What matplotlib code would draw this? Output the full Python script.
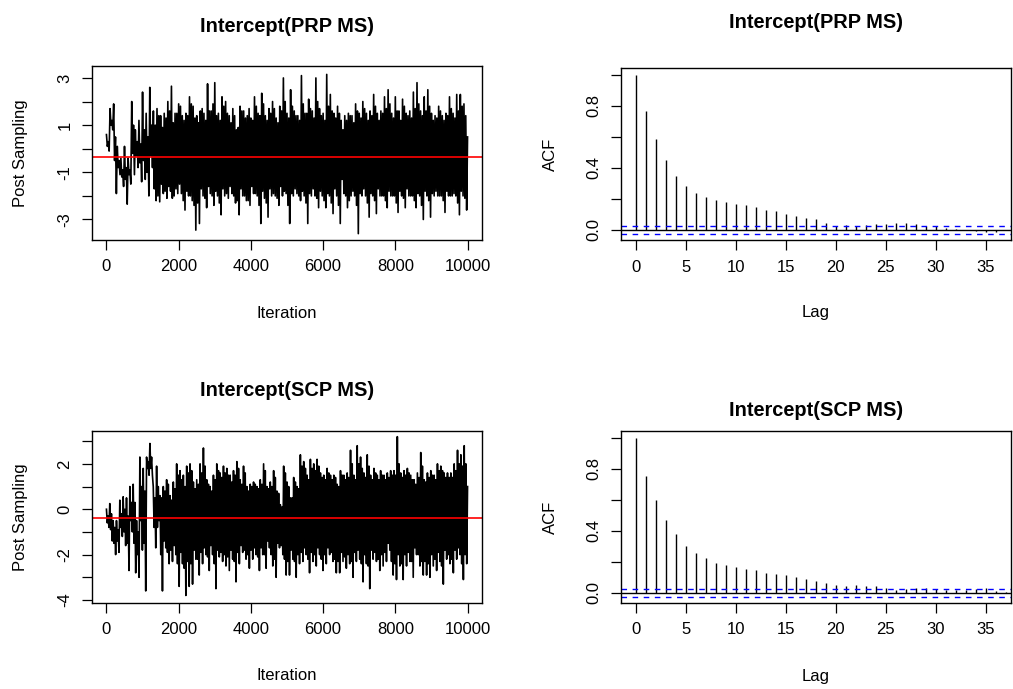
import matplotlib
matplotlib.use("Agg")
import matplotlib.pyplot as plt
import numpy as np

plt.rcParams['font.family'] = ['Liberation Sans', 'DejaVu Sans']

# ---------------- data ----------------
titles_left = ["Intercept(PRP MS)", "Intercept(SCP MS)"]
titles_right = ["Intercept(PRP MS)", "Intercept(SCP MS)"]
n_iter = 10000

# PRP trace: per-block extreme high / low values (100 blocks of 100 iterations)
prp_hi = [0.6, 1.7, 1.9, 0.1, -0.4, 0.1, -0.4, 2.0, 0.8, 1.2,
          2.4, 1.5, 2.6, 1.6, 1.7, 1.4, 1.5, 2.0, 2.65, 1.5,
          1.9, 1.4, 1.5, 2.2, 1.8, 1.4, 1.6, 1.5, 2.75, 1.6,
          2.8, 1.5, 2.2, 2.0, 1.4, 1.7, 0.8, 1.8, 1.6, 1.4,
          1.3, 2.2, 1.5, 2.35, 1.4, 1.7, 2.0, 1.3, 1.8, 3.0,
          1.5, 2.5, 1.6, 1.4, 3.1, 1.5, 2.1, 1.6, 3.0, 1.7,
          1.5, 3.15, 2.3, 1.5, 1.8, 1.2, 1.4, 1.5, 1.4, 1.9,
          1.5, 2.0, 1.5, 1.6, 2.3, 1.5, 1.6, 2.2, 2.5, 1.5,
          2.2, 1.6, 2.1, 1.5, 1.6, 2.4, 2.8, 1.6, 2.2, 2.5,
          1.5, 1.4, 1.8, 1.4, 1.5, 2.2, 1.5, 2.3, 2.3, 1.9]
prp_lo = [-0.1, 0.8, -1.9, -1.1, -1.6, -2.35, -1.5, -1.1, -0.8, -1.4,
          -1.3, -2.0, -0.8, -2.2, -2.25, -1.9, -2.1, -1.8, -2.0, -1.9,
          -1.9, -2.6, -2.0, -2.2, -3.45, -3.17, -2.0, -2.5, -1.9, -2.4,
          -2.0, -2.8, -2.0, -2.1, -1.9, -2.3, -2.8, -2.0, -2.2, -2.4,
          -1.9, -2.0, -3.17, -2.1, -2.9, -2.0, -2.0, -2.4, -2.0, -1.9,
          -3.17, -2.0, -1.9, -2.2, -2.0, -3.17, -2.0, -2.0, -2.5, -2.0,
          -2.5, -2.0, -2.75, -2.0, -3.17, -1.9, -2.5, -2.0, -2.0, -3.6,
          -2.0, -2.0, -2.9, -2.0, -2.75, -2.0, -2.0, -2.5, -2.0, -2.0,
          -2.7, -2.0, -2.5, -2.0, -2.0, -2.5, -2.0, -3.0, -2.0, -2.9,
          -2.0, -2.0, -2.0, -2.7, -2.0, -2.0, -2.0, -2.8, -2.0, -2.6]
# PRP trace: per-block secondary (inner) high / low values
prp_core_hi = [0.3, 1.2, 0.5, -0.5, -0.9, -0.8, -0.9, 1.0, 0.3, 0.2,
               0.8, 0.5, 1.0, 1.0, 1.4, 0.9, 1.3, 1.6, 1.1, 1.5, 1.8, 1.2, 1.4,
               1.9, 1.3, 1.1, 1.7, 1.2, 1.6, 1.9, 1.4, 1.2, 1.8,
               1.5, 1.1, 1.4, 0.9, 1.6, 1.3, 1.7, 1.2, 1.8, 1.4,
               1.9, 1.2, 1.5, 1.7, 1.1, 1.6, 2.0, 1.3, 1.8, 1.4,
               1.2, 1.9, 1.5, 1.7, 1.3, 2.0, 1.4, 1.2, 1.8, 1.6,
               1.3, 1.5, 0.8, 1.2, 1.4, 1.1, 1.6, 1.3, 1.7, 1.2,
               1.4, 1.8, 1.2, 1.5, 1.7, 1.9, 1.3, 1.6, 1.2, 1.8,
               1.4, 1.3, 1.7, 1.9, 1.4, 1.6, 1.8, 1.2, 1.3, 1.6,
               1.2, 1.4, 1.7, 1.3, 1.6, 1.8, 1.4]
prp_core_lo = [0.1, 1.0, -0.5, -0.8, -1.2, -1.3, -1.1, -0.2, -0.3, -0.6,
               -0.5, -1.0, -0.3, -1.7, -2.0, -1.5, -1.8, -1.6, -2.1, -1.7, -1.5, -2.2, -1.8,
               -2.0, -2.4, -2.3, -1.7, -2.1, -1.6, -2.0, -1.8, -2.3, -1.7,
               -1.9, -1.6, -2.0, -2.2, -1.7, -2.0, -2.2, -1.6, -1.9, -2.4,
               -1.8, -2.3, -1.7, -1.9, -2.1, -1.6, -1.8, -2.4, -1.9, -1.7,
               -2.0, -1.8, -2.3, -1.9, -1.7, -2.1, -1.8, -2.2, -1.9, -2.3,
               -1.7, -2.4, -1.3, -2.0, -2.2, -1.8, -2.4, -1.9, -1.7, -2.3,
               -1.9, -2.2, -1.7, -2.0, -2.2, -1.8, -2.0, -2.3, -1.8, -2.1,
               -1.7, -2.0, -2.2, -1.9, -2.4, -1.8, -2.2, -1.9, -1.8, -2.0,
               -2.2, -1.8, -2.0, -1.9, -2.3, -1.8, -2.1]
prp_end = 0.5
prp_mean = -0.33

# SCP trace: per-block extreme high / low values (108 blocks)
scp_hi = [0.0, 0.25, -0.5, -0.5, 0.4, 0.55, 0.5, 1.0, 1.1, -0.5,
          2.3, 1.8, 2.3, 2.9, 1.0, 1.9, 0.6, 1.0, 1.3, 0.6,
          1.2, 2.0, 1.7, 1.5, 1.9, 2.0, 1.2, 1.3, 2.0, 2.7,
          1.3, 1.0, 1.5, 2.0, 1.6, 1.9, 1.8, 1.5, 1.7, 2.1,
          1.3, 1.9, 1.0, 1.1, 1.2, 1.0, 1.3, 2.0, 1.0, 1.2,
          1.7, 0.8, 0.2, 1.9, 1.2, 0.5, 1.4, 1.0, 2.4, 2.1,
          1.5, 2.2, 2.0, 2.2, 1.6, 1.5, 1.8, 1.5, 1.5, 1.1,
          1.7, 1.5, 1.6, 2.6, 1.5, 2.8, 2.3, 1.6, 2.4, 1.5,
          1.8, 1.5, 1.7, 1.5, 1.6, 1.7, 1.7, 3.2, 1.6, 1.7,
          1.8, 1.5, 1.3, 1.6, 2.5, 1.3, 1.6, 1.7, 1.5, 2.0,
          1.9, 1.6, 1.6, 1.6, 2.0, 2.6, 2.4, 2.8]
scp_lo = [-0.8, -1.4, -2.0, -1.9, -1.2, -1.6, -2.7, -1.0, -2.8, -3.0,
          -1.8, -3.6, 1.5, 1.5, -1.7, -0.5, -3.6, -1.7, -2.4, -2.3,
          -2.0, -3.4, -2.4, -3.8, -3.4, -3.3, -2.2, -2.9, -2.4, -2.0,
          -2.7, -2.0, -3.5, -2.1, -2.3, -2.5, -2.7, -2.2, -3.2, -2.4,
          -1.9, -2.2, -2.6, -2.2, -2.0, -2.7, -2.0, -2.6, -1.7, -2.5,
          -3.0, -1.7, -2.0, -2.9, -2.9, -2.2, -3.0, -2.4, -2.3, -2.0,
          -2.8, -2.3, -2.5, -2.0, -2.7, -2.4, -2.0, -2.3, -2.8, -2.8,
          -2.3, -2.6, -2.4, -3.0, -2.3, -2.2, -3.2, -2.4, -3.5, -2.2,
          -2.3, -2.7, -2.5, -2.3, -1.8, -2.9, -3.1, -2.5, -3.1, -2.5,
          -2.3, -3.0, -2.0, -2.5, -2.9, -2.9, -3.0, -2.5, -2.7, -2.3,
          -3.3, -2.2, -2.4, -2.8, -2.2, -2.0, -3.1, -2.4]
# SCP trace: per-block secondary (inner) high / low values
scp_core_hi = [-0.3, -0.2, -0.8, -0.9, -0.2, 0.0, -0.3, 0.3, 0.3, -1.0,
               1.0, 0.8, 2.1, 2.3, 0.5,
               1.0, 0.5, 0.8, 1.1, 0.4, 0.9, 1.5, 1.3, 1.0, 1.6,
               1.7, 0.9, 1.1, 1.6, 1.9, 1.1, 0.8, 1.3, 1.7, 1.4,
               1.6, 1.5, 1.2, 1.5, 1.8, 1.1, 1.6, 0.8, 1.0, 1.1,
               0.9, 1.1, 1.7, 0.9, 1.0, 1.4, 0.7, 0.1, 1.6, 1.0,
               0.5, 1.2, 0.9, 1.9, 1.8, 1.3, 1.8, 1.7, 1.9, 1.4,
               1.3, 1.6, 1.3, 1.4, 1.0, 1.5, 1.3, 1.4, 2.0, 1.3,
               2.0, 1.8, 1.4, 1.9, 1.3, 1.6, 1.3, 1.5, 1.3, 1.4,
               1.5, 1.5, 2.0, 1.4, 1.5, 1.6, 1.3, 1.1, 1.4, 1.9,
               1.2, 1.4, 1.5, 1.3, 1.7, 1.7, 1.4, 1.4, 1.4, 1.7, 2.0, 1.9, 2.0]
scp_core_lo = [-0.6, -0.9, -1.5, -1.4, -0.8, -1.0, -1.5, -0.5, -1.5, -2.0,
               -0.5, -1.5, 1.8, 1.8, -0.8,
               -0.8, -2.0, -1.4, -1.9, -1.8, -1.6, -2.4, -1.9, -2.6, -2.3,
               -2.4, -1.8, -2.2, -1.9, -1.7, -2.1, -1.6, -2.4, -1.8, -1.9,
               -2.0, -2.1, -1.8, -2.3, -1.9, -1.6, -1.8, -2.0, -1.8, -1.7,
               -2.1, -1.7, -2.0, -1.4, -2.0, -2.2, -1.5, -1.6, -2.2, -2.3,
               -1.8, -2.3, -2.0, -1.9, -1.7, -2.2, -1.9, -2.0, -1.7, -2.2,
               -2.0, -1.7, -1.9, -2.2, -2.3, -1.9, -2.1, -2.0, -2.3, -1.9,
               -1.8, -2.4, -2.0, -2.5, -1.8, -1.9, -2.2, -2.0, -1.9, -1.5,
               -2.3, -2.4, -2.0, -2.4, -2.0, -1.9, -2.3, -1.7, -2.0, -2.3,
               -2.3, -2.4, -2.0, -2.2, -1.9, -2.5, -1.8, -2.0, -2.2, -1.8, -1.7, -2.4, -2.0]
scp_end = 1.0
scp_mean = -0.40

# autocorrelations (lags 0..37)
prp_acf = [1.0, 0.766, 0.585, 0.449, 0.346, 0.282, 0.237, 0.211, 0.191, 0.181,
           0.168, 0.159, 0.144, 0.129, 0.118, 0.099, 0.088, 0.075, 0.067, 0.045,
           0.027, 0.028, 0.026, 0.028, 0.034, 0.037, 0.043, 0.043, 0.039, 0.026,
           0.022, 0.011, 0.006, 0.0, -0.009, -0.015, -0.015, -0.003]
scp_acf = [1.0, 0.751, 0.596, 0.469, 0.376, 0.299, 0.256, 0.222, 0.194, 0.181,
           0.166, 0.151, 0.144, 0.127, 0.118, 0.114, 0.103, 0.086, 0.073, 0.060,
           0.047, 0.045, 0.047, 0.043, 0.041, 0.030, 0.019, 0.026, 0.028, 0.030,
           0.024, 0.019, 0.015, 0.019, 0.024, 0.028, 0.013, 0.004]
prp_ci = 0.025
scp_ci = 0.027

# ---------------- figure ----------------
W, H = 1013, 689
fig = plt.figure(figsize=(W / 100, H / 100), dpi=100)


def px_axes(x0, y0, x1, y1):
    return fig.add_axes([x0 / W, 1 - y1 / H, (x1 - x0) / W, (y1 - y0) / H])


def style(ax):
    for s in ax.spines.values():
        s.set_linewidth(1.0)
        s.set_color('black')
    ax.tick_params(direction='out', length=7, width=0.9, labelsize=12,
                   pad=7, colors='black')
    for lab in ax.get_yticklabels():
        lab.set_rotation(90)
        lab.set_va('center')


def trace(ax, hi, lo, chi, clo, end, mean, ylim, yticks, ylabels):
    n = len(hi)
    w = n_iter / n
    xs, ys = [], []
    for i in range(n):
        xs += [i * w, (i + 0.25) * w, (i + 0.5) * w, (i + 0.75) * w]
        ys += [hi[i], clo[i], chi[i], lo[i]]
    xs.append(n_iter)
    ys.append(end)
    ax.plot(xs, ys, color='black', lw=1.2)
    ax.axhline(mean, color='red', lw=1.2)
    ax.set_xlim(-400, 10400)
    ax.set_ylim(*ylim)
    ax.set_xticks([0, 2000, 4000, 6000, 8000, 10000])
    ax.set_yticks(yticks)
    ax.set_yticklabels(ylabels)
    style(ax)


def acfplot(ax, acf, ci, ylim):
    lags = np.arange(len(acf))
    ax.vlines(lags, 0, acf, color='black', lw=1.0)
    ax.axhline(0, color='black', lw=1.0)
    ax.axhline(ci, color='blue', lw=1.0, ls=(0, (4, 4)))
    ax.axhline(-ci, color='blue', lw=1.0, ls=(0, (4, 4)))
    ax.set_xlim(-1.47, 37.53)
    ax.set_ylim(*ylim)
    ax.set_xticks([0, 5, 10, 15, 20, 25, 30, 35])
    ax.set_yticks([0.0, 0.2, 0.4, 0.6, 0.8, 1.0])
    ax.set_yticklabels(['0.0', '', '0.4', '', '0.8', ''])
    style(ax)


ax1 = px_axes(92, 65.7, 482, 240)
ax2 = px_axes(621, 68.3, 1011, 240.3)
ax3 = px_axes(92, 431, 482, 602.7)
ax4 = px_axes(621, 431, 1011, 602.7)

trace(ax1, prp_hi, prp_lo, prp_core_hi, prp_core_lo, prp_end, prp_mean,
      (-3.87, 3.52), [-3, -2, -1, 0, 1, 2, 3],
      ['-3', '', '-1', '', '1', '', '3'])
trace(ax3, scp_hi, scp_lo, scp_core_hi, scp_core_lo, scp_end, scp_mean,
      (-4.12, 3.45), [-4, -3, -2, -1, 0, 1, 2, 3],
      ['-4', '', '-2', '', '0', '', '2', ''])
acfplot(ax2, prp_acf, prp_ci, (-0.068, 1.041))
acfplot(ax4, scp_acf, scp_ci, (-0.0645, 1.043))


def ftext(x, y, s, **kw):
    fig.text(x / W, 1 - y / H, s, ha='center', va='center', **kw)


ftext(287, 27, titles_left[0], fontsize=14.4, fontweight='bold')
ftext(816, 22, titles_right[0], fontsize=14.4, fontweight='bold')
ftext(287, 390, titles_left[1], fontsize=14.4, fontweight='bold')
ftext(816, 410, titles_right[1], fontsize=14.4, fontweight='bold')

ftext(287, 313, "Iteration", fontsize=12)
ftext(287, 676, "Iteration", fontsize=12)
ftext(816, 313, "Lag", fontsize=12)
ftext(816, 677, "Lag", fontsize=12)
ftext(21, 153, "Post Sampling", fontsize=12, rotation=90)
ftext(21, 517, "Post Sampling", fontsize=12, rotation=90)
ftext(550, 154, "ACF", fontsize=12, rotation=90)
ftext(550, 517, "ACF", fontsize=12, rotation=90)

fig.savefig("out.png", dpi=100)
